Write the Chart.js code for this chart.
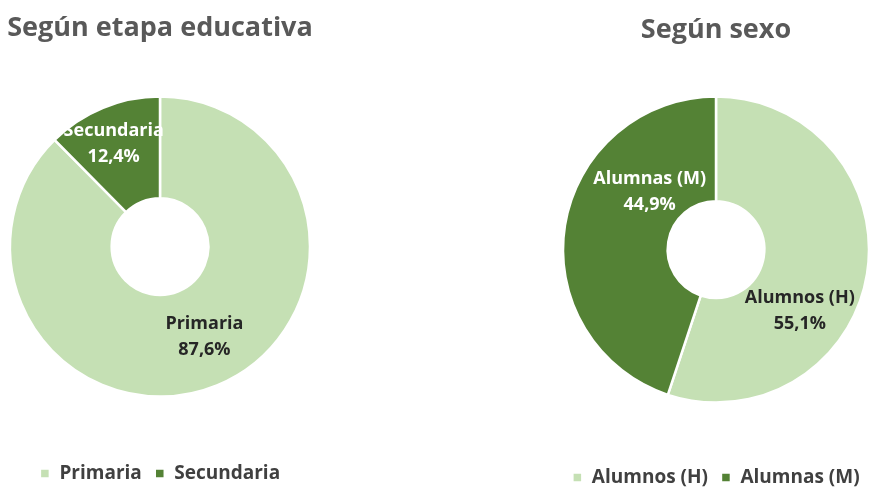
<!DOCTYPE html>
<html>
<head>
<meta charset="utf-8">
<script src="https://cdn.jsdelivr.net/npm/chart.js@4"></script>
<style>
  html, body { margin: 0; padding: 0; background: #fff; }
  body { width: 878px; height: 488px; position: relative; overflow: hidden; }
  .box { position: absolute; top: 0; height: 488px; }
</style>
</head>
<body>
<div class="box" style="left:0px;width:320px"><canvas id="etapaChart"></canvas></div>
<div class="box" style="left:555px;width:322px"><canvas id="sexoChart"></canvas></div>
<script>
// Data
const etapaLabels = ['Primaria', 'Secundaria'];
const etapaValues = [87.6, 12.4];
const sexoLabels = ['Alumnos (H)', 'Alumnas (M)'];
const sexoValues = [55.1, 44.9];

const colors = ['#C5E0B4', '#548235'];
const labelColors = ['#262626', '#FFFFFF'];
const fontFamily = '"Open Sans", sans-serif';

// Draw "name / value%" inside each slice
const sliceLabels = {
  id: 'sliceLabels',
  afterDatasetsDraw(chart, args, opts) {
    const { ctx } = chart;
    const meta = chart.getDatasetMeta(0);
    const labels = chart.data.labels;
    const values = chart.data.datasets[0].data;
    ctx.save();
    ctx.font = `bold ${opts.size}px ${fontFamily}`;
    ctx.textAlign = 'center';
    ctx.textBaseline = 'middle';
    meta.data.forEach((arc, i) => {
      const p = arc.getProps(['x', 'y', 'startAngle', 'endAngle', 'innerRadius', 'outerRadius'], true);
      const mid = (p.startAngle + p.endAngle) / 2 + (opts.shift[i] || 0) * Math.PI / 180;
      const r = p.innerRadius + (p.outerRadius - p.innerRadius) * opts.frac[i];
      const x = p.x + Math.cos(mid) * r;
      const y = p.y + Math.sin(mid) * r;
      ctx.fillStyle = labelColors[i];
      ctx.fillText(labels[i], x, y - 13);
      ctx.fillText(values[i].toFixed(1).replace('.', ',') + '%', x, y + 13);
    });
    ctx.restore();
  }
};

function makeDoughnut(id, title, labels, values, radius, labelOpts, titlePad, legendGap, bottomPad) {
  const ctx = document.getElementById(id).getContext('2d');
  return new Chart(ctx, {
    type: 'doughnut',
    data: {
      labels: labels,
      datasets: [{
        data: values,
        backgroundColor: colors,
        borderColor: '#FFFFFF',
        borderWidth: 2.5
      }]
    },
    options: {
      responsive: false,
      animation: false,
      radius: radius,
      cutout: 48,
      layout: { padding: { top: 0, bottom: bottomPad, left: 0, right: 0 } },
      plugins: {
        title: {
          display: true,
          text: title,
          color: '#595959',
          font: { family: fontFamily, size: 27, weight: 'bold' },
          padding: titlePad
        },
        legend: {
          position: 'bottom',
          title: { display: true, text: '', font: { size: 1 }, padding: { top: legendGap, bottom: 0 } },
          labels: {
            boxWidth: 10,
            boxHeight: 10,
            padding: 13,
            color: '#404040',
            font: { family: fontFamily, size: 19, weight: 'bold' }
          }
        },
        tooltip: { enabled: false },
        sliceLabels: labelOpts
      }
    },
    plugins: [sliceLabels]
  });
}

document.getElementById('etapaChart').width = 320;
document.getElementById('etapaChart').height = 488;
document.getElementById('sexoChart').width = 322;
document.getElementById('sexoChart').height = 488;

makeDoughnut('etapaChart', 'Según etapa educativa', etapaLabels, etapaValues, 150,
  { size: 18, shift: [-4, -2], frac: [0.51, 0.63] }, { top: 12, bottom: 52 }, 53, -5);
makeDoughnut('sexoChart', 'Según sexo', sexoLabels, sexoValues, 153,
  { size: 18, shift: [27, 32], frac: [0.53, 0.38] }, { top: 14, bottom: 50 }, 51, -9);
</script>
</body>
</html>
